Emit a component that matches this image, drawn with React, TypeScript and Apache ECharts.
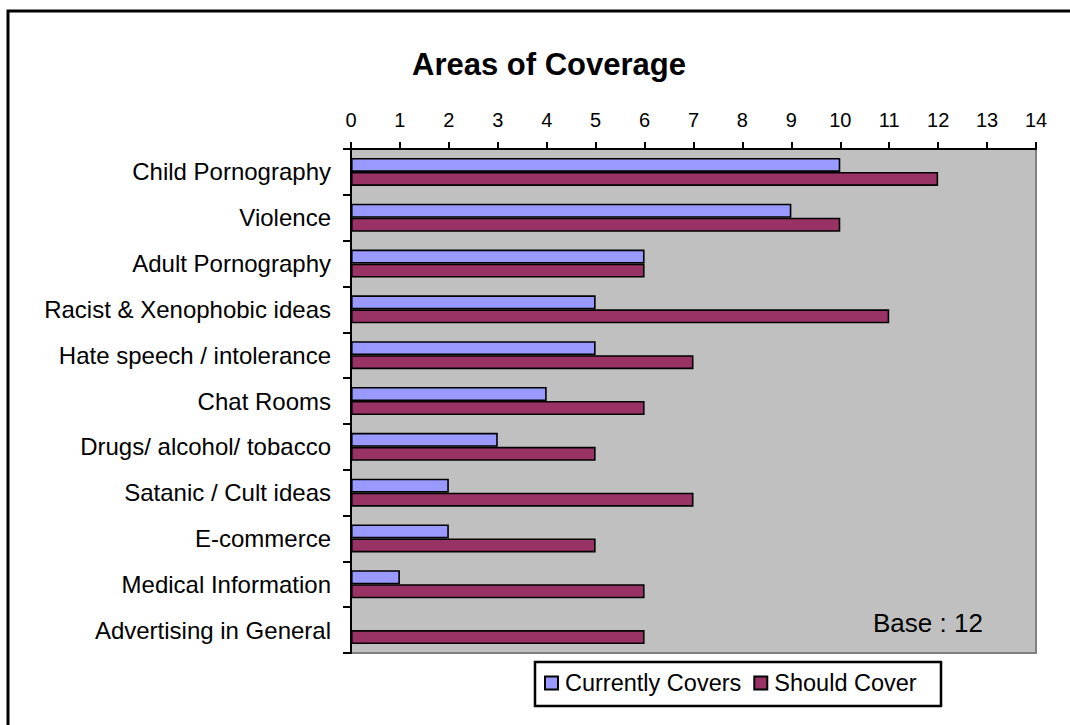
import React, { useEffect, useRef } from "react";
import * as echarts from "echarts";

const categories = [
  "Child Pornography",
  "Violence",
  "Adult Pornography",
  "Racist & Xenophobic ideas",
  "Hate speech / intolerance",
  "Chat Rooms",
  "Drugs/ alcohol/ tobacco",
  "Satanic / Cult ideas",
  "E-commerce",
  "Medical Information",
  "Advertising in General",
];
const currentlyCovers = [10, 9, 6, 5, 5, 4, 3, 2, 2, 1, 0];
const shouldCover = [12, 10, 6, 11, 7, 6, 5, 7, 5, 6, 6];
const seriesNames = ["Currently Covers", "Should Cover"];
const titleText = "Areas of Coverage";
const baseNote = "Base : 12";

const FONT = "'Liberation Sans', Arial, sans-serif";

export default function App() {
  const ref = useRef<HTMLDivElement>(null);
  useEffect(() => {
    if (!ref.current) return;
    const chart = echarts.init(ref.current, null, { renderer: "svg" });
    chart.setOption({
      animation: false,
      backgroundColor: "#ffffff",
      textStyle: { fontFamily: FONT, color: "#000" },
      title: {
        text: titleText,
        left: 544,
        top: 44,
        textAlign: "center",
        textStyle: { fontFamily: FONT, fontSize: 31, fontWeight: "bold", color: "#000" },
      },
      grid: {
        left: 351,
        right: 34,
        top: 149,
        bottom: 72,
        show: true,
        backgroundColor: "#C0C0C0",
        borderColor: "#808080",
        borderWidth: 2,
      },
      legend: {
        data: seriesNames,
        left: 544,
        top: 671,
        padding: 0,
        itemWidth: 13,
        itemHeight: 13,
        itemGap: 12,
        icon: "rect",
        textStyle: { fontFamily: FONT, fontSize: 23.5, color: "#000", padding: [0, 0, 0, 2] },
        itemStyle: { borderColor: "#000", borderWidth: 2 },
      },
      xAxis: {
        type: "value",
        position: "top",
        min: 0,
        max: 14,
        interval: 1,
        splitLine: { show: false },
        axisLine: { show: true, lineStyle: { color: "#000", width: 2 } },
        axisTick: { show: true, inside: false, length: 7, lineStyle: { color: "#000", width: 2 } },
        axisLabel: { fontFamily: FONT, fontSize: 20, color: "#000", margin: 19 },
      },
      yAxis: {
        type: "category",
        inverse: true,
        data: categories,
        axisLine: { show: true, lineStyle: { color: "#000", width: 2 } },
        axisTick: { show: true, inside: false, length: 8, lineStyle: { color: "#000", width: 2 } },
        axisLabel: { fontFamily: FONT, fontSize: 24, color: "#000", margin: 20 },
      },
      series: [
        {
          name: seriesNames[0],
          type: "bar",
          data: currentlyCovers,
          barWidth: 14,
          barGap: "0%",
          itemStyle: { color: "#9999FF", borderColor: "#000", borderWidth: 1.6 },
        },
        {
          name: seriesNames[1],
          type: "bar",
          data: shouldCover,
          barWidth: 14,
          barGap: "0%",
          itemStyle: { color: "#993366", borderColor: "#000", borderWidth: 1.6 },
        },
      ],
      graphic: [
        {
          type: "rect",
          shape: { x: 8, y: 11, width: 1200, height: 900 },
          style: { fill: "none", stroke: "#000", lineWidth: 3 },
          silent: true,
          z: -1,
        },
        {
          type: "rect",
          shape: { x: 535, y: 662, width: 406, height: 44 },
          style: { fill: "#fff", stroke: "#000", lineWidth: 2.5 },
          silent: true,
          z: -1,
        },
        {
          type: "text",
          x: 873,
          y: 623,
          style: {
            text: baseNote,
            fontFamily: FONT,
            fontSize: 26,
            fill: "#000",
            align: "left",
            verticalAlign: "middle",
          },
          z: 10,
        },
      ],
    });
    return () => chart.dispose();
  }, []);
  return (
    <div
      ref={ref}
      style={{ position: "fixed", left: 0, top: 0, width: 1070, height: 725 }}
    />
  );
}
